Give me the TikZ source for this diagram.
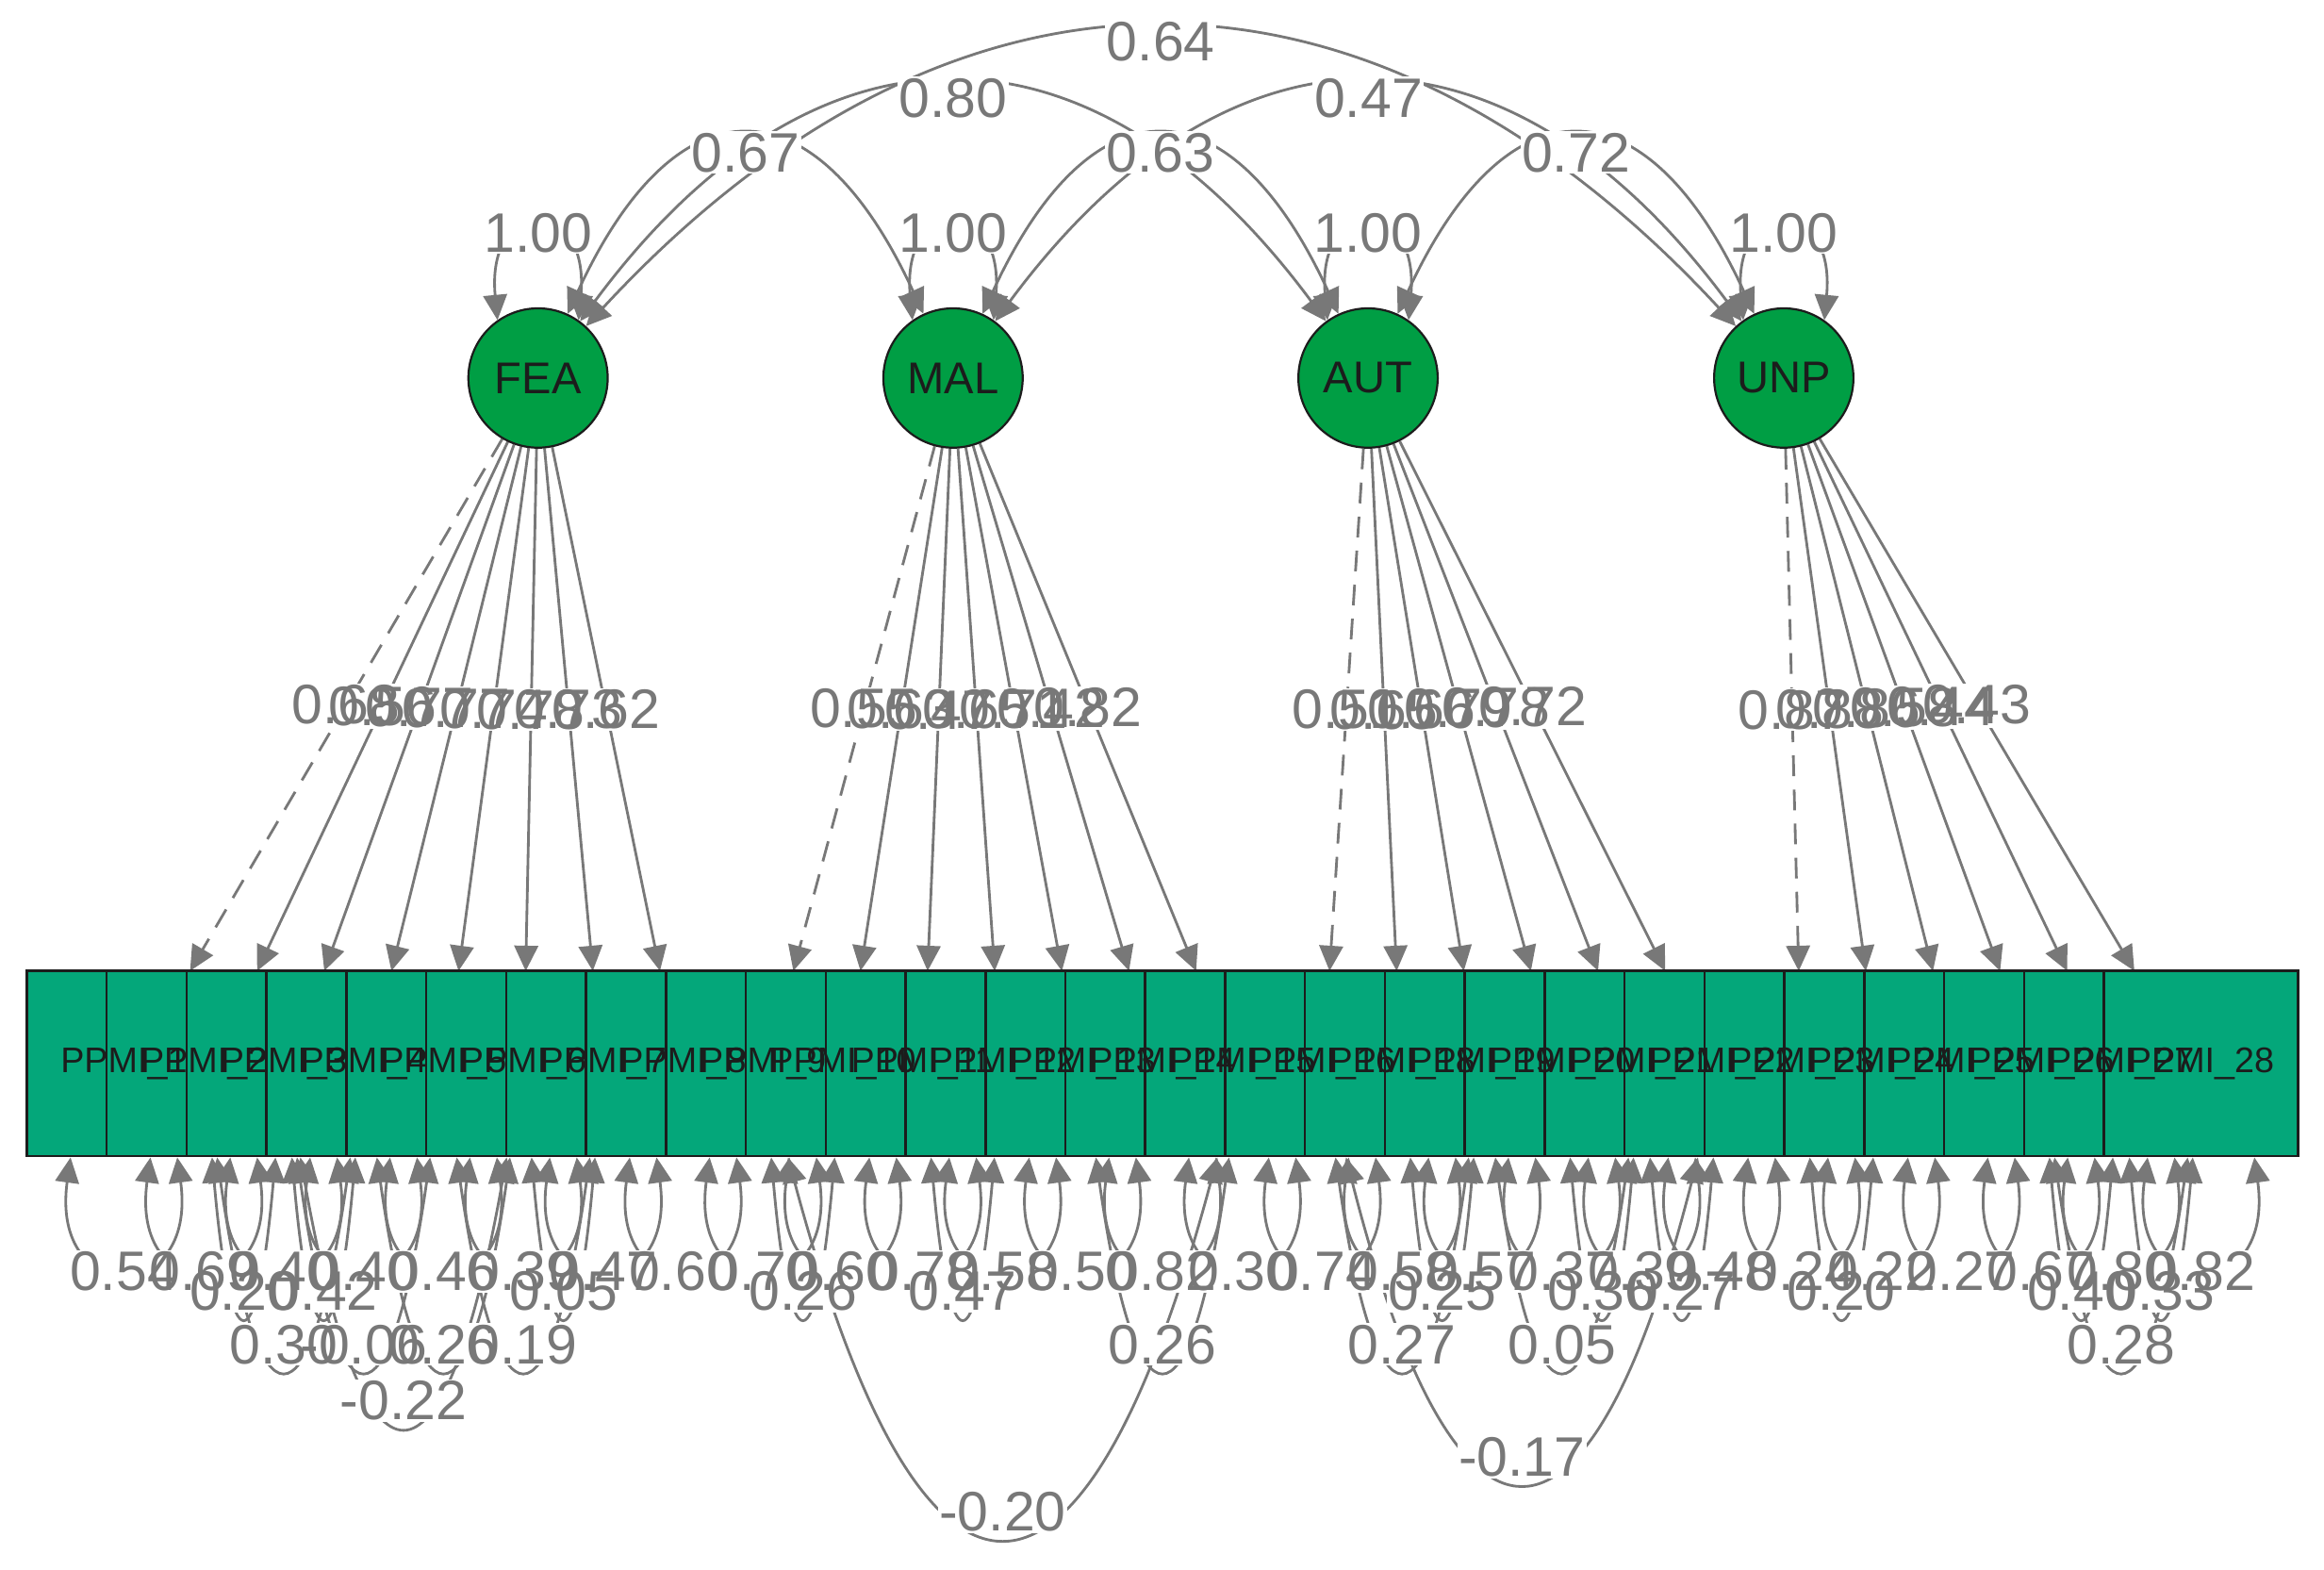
\documentclass[tikz,border=0pt]{standalone}
\usepackage{fontspec}
\setmainfont{Liberation Sans}
\usetikzlibrary{arrows.meta,calc}
\pgfdeclarelayer{edges}
\pgfsetlayers{edges,main}
\definecolor{egray}{RGB}{120,120,120}
\definecolor{latfill}{RGB}{0,158,68}
\definecolor{manfill}{RGB}{4,167,122}
\definecolor{dark}{RGB}{28,28,28}
\begin{document}
\begin{tikzpicture}[x=1pt,y=-1pt,
  lat/.style={circle,draw=dark,line width=1.4pt,fill=latfill,minimum size=94pt,inner sep=0pt,
    font=\fontsize{30}{30}\selectfont,text=dark},
  man/.style={rectangle,draw=dark,line width=1.6pt,fill=manfill,minimum width=131pt,minimum height=125pt,inner sep=0pt},
  manlab/.style={font=\fontsize{24}{24}\selectfont,text=dark,inner sep=0pt},
  ed/.style={draw=egray,line width=1.8pt},
  tip/.style={-{Triangle[length=17pt,width=16pt]}},
  both/.style={{Triangle[length=17pt,width=16pt]}-{Triangle[length=17pt,width=16pt]}},
  dashpat/.style={dash pattern=on 14pt off 9pt},
  lbg/.style={fill=white,inner sep=1pt,font=\fontsize{37.5}{38}\selectfont},
  lab/.style={text=egray,inner sep=1pt,font=\fontsize{37.5}{38}\selectfont},
]
\useasboundingbox (0,0) rectangle (1568,1059);
% latent variables
\node[lat] (FEA) at (363,255) {FEA};
\node[lat] (MAL) at (643,255) {MAL};
\node[lat] (AUT) at (923,255) {AUT};
\node[lat] (UNP) at (1203.5,255) {UNP};
% manifest variables
\foreach \k in {1,...,27} \node[man] (m\k) at ({83.6+53.9*(\k-1)},717.5) {};
\foreach \k/\t in {1/1,2/2,3/3,4/4,5/5,6/6,7/7,8/8,9/9,10/10,11/11,12/12,13/13,14/14,15/15,16/16,
  17/18,18/19,19/20,20/21,21/22,22/23,23/24,24/25,25/26,26/27,27/28}
  \node[manlab] (n\k) at (m\k.center) {PPMI\_\t};
\begin{pgfonlayer}{edges}
% loadings
\foreach \L/\a/\b in {FEA/1/8,MAL/9/15,AUT/16/21,UNP/22/27} {
  \foreach \k in {\a,...,\b} {
    \ifnum\k=\a\relax\def\dsh{dashpat}\else\def\dsh{solid}\fi
    \draw[ed,tip,\dsh] (\L) -- ($(\L)!0.8403!([yshift=-13.5pt]m\k.center)$) coordinate[midway] (ld\k);
  }
}
% latent variances
\foreach \L in {FEA,MAL,AUT,UNP} {
  \draw[ed,both] (\L.125) .. controls +(-8,-85) and +(8,-85) .. (\L.55);
  \coordinate (lv\L) at ($(\L)+(0,-98)$);
}
% latent covariances
\foreach \A/\B/\H/\HH/\n in {FEA/MAL/152/304/1,MAL/AUT/152/304/2,AUT/UNP/152/304/3,
  FEA/AUT/189/378/4,MAL/UNP/189/378/5,FEA/UNP/227/454/6} {
  \coordinate (q\n) at ($(\A)!0.5!(\B)+(0,-\HH)$);
  \coordinate (lc\n) at ($(\A)!0.5!(\B)+(0,-\H)$);
  \draw[ed,both] (\A) .. controls ($(\A)!2/3!(q\n)$) and ($(\B)!2/3!(q\n)$) .. (\B);
}
% residual variances
\foreach \k in {1,...,27} {
  \draw[ed,both] ([xshift=-36pt]m\k.south) .. controls +(-14,101) and +(14,101) .. ([xshift=36pt]m\k.south);
  \coordinate (lr\k) at ($(m\k.south)+(0,77)$);
}
% residual covariances
\foreach \i/\j/\H/\HH/\n in {2/3/153.5/307/1,3/4/153.5/307/2,6/7/153.5/307/3,9/10/153.5/307/4,
  11/12/153.5/307/5,17/18/153.5/307/6,19/20/153.5/307/7,20/21/153.5/307/8,22/23/153.5/307/9,
  25/26/153.5/307/10,26/27/153.5/307/11,2/4/189.5/379/12,3/5/189.5/379/13,4/6/189.5/379/14,
  5/7/189.5/379/15,13/15/189.5/379/16,16/18/189.5/379/17,18/20/189.5/379/18,25/27/189.5/379/19,
  3/6/227.5/455/20,16/21/265.5/531/21,9/15/302.5/605/22} {
  \coordinate (rb\n) at ($(m\i)!0.5!(m\j)+(0,\HH)$);
  \coordinate (lb\n) at ($(m\i)!0.5!(m\j)+(0,\H)$);
  \draw[ed,both] (m\i) .. controls ($(m\i)!2/3!(rb\n)$) and ($(m\j)!2/3!(rb\n)$) .. (m\j);
}
\end{pgfonlayer}
\def\labs{lvFEA/1.00,lvMAL/1.00,lvAUT/1.00,lvUNP/1.00,
 lc1/0.67,lc2/0.63,lc3/0.72,lc4/0.80,lc5/0.47,lc6/0.64,
 ld1/0.68,ld2/0.56,ld3/0.77,ld4/0.77,ld5/0.74,ld6/0.78,ld7/0.73,ld8/0.62,
 ld9/0.55,ld10/0.63,ld11/0.47,ld12/0.65,ld13/0.71,ld14/0.42,ld15/0.82,
 ld16/0.51,ld17/0.65,ld18/0.66,ld19/0.79,ld20/0.78,ld21/0.72,
 ld22/0.87,ld23/0.88,ld24/0.86,ld25/0.58,ld26/0.44,ld27/0.43,
 lr1/0.54,lr2/0.69,lr3/0.40,lr4/0.40,lr5/0.46,lr6/0.39,lr7/0.47,lr8/0.60,lr9/0.70,
 lr10/0.60,lr11/0.78,lr12/0.58,lr13/0.50,lr14/0.82,lr15/0.30,lr16/0.74,lr17/0.58,lr18/0.57,
 lr19/0.37,lr20/0.39,lr21/0.48,lr22/0.24,lr23/0.22,lr24/0.27,lr25/0.67,lr26/0.80,lr27/0.82,
 lb1/0.20,lb2/0.42,lb3/0.05,lb4/0.26,lb5/0.47,lb6/0.25,lb7/0.36,lb8/0.27,lb9/0.20,lb10/0.40,
 lb11/0.33,lb12/0.30,lb13/-0.06,lb14/0.26,lb15/0.19,lb16/0.26,lb17/0.27,lb18/0.05,lb19/0.28,
 lb20/-0.22,lb21/-0.17,lb22/-0.20}
\foreach \p/\t in \labs \node[lbg] at (\p) {\phantom{\t}};
\foreach \p/\t in \labs \node[lab] at (\p) {\t};
\end{tikzpicture}
\end{document}
